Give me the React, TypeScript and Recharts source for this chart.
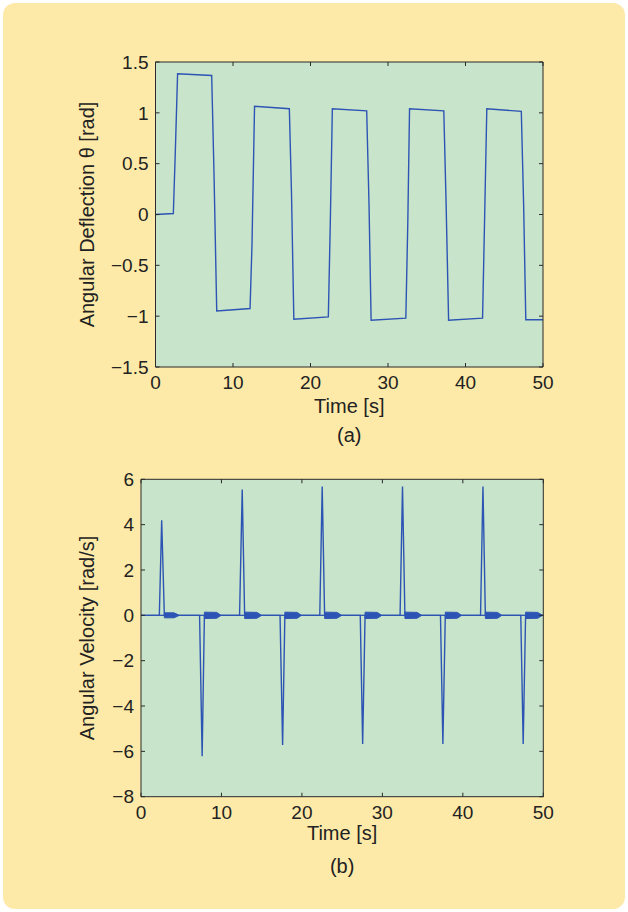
import React from 'react'
import { ComposedChart, Line, Area, XAxis, YAxis, CartesianGrid } from 'recharts'

const timeTicks = [0, 10, 20, 30, 40, 50]
const thetaTicks = [-1.5, -1, -0.5, 0, 0.5, 1, 1.5]
const omegaTicks = [-8, -6, -4, -2, 0, 2, 4, 6]

// (a) angular deflection
const thetaT = [0, 2.3, 2.55, 2.85, 7.25, 7.55, 7.9, 12.2, 12.45, 12.78, 17.27, 17.55, 17.85, 22.3, 22.55, 22.82, 27.25, 27.55, 27.82, 32.3, 32.55, 32.78, 37.2, 37.5, 37.82, 42.2, 42.45, 42.75, 47.2, 47.5, 47.78, 50]
const thetaV = [0, 0.01, 0.6, 1.385, 1.367, 0.4, -0.948, -0.925, -0.3, 1.064, 1.04, 0.2, -1.03, -1.007, -0.1, 1.04, 1.02, 0.1, -1.04, -1.02, -0.1, 1.04, 1.02, 0.1, -1.04, -1.02, -0.1, 1.04, 1.015, 0.1, -1.035, -1.035]

// (b) angular velocity spikes
const omegaT = [0, 2.28, 2.57, 2.9, 7.28, 7.6, 7.88, 12.25, 12.58, 12.88, 17.28, 17.6, 17.88, 22.22, 22.52, 22.82, 27.25, 27.55, 27.85, 32.2, 32.5, 32.8, 37.22, 37.52, 37.82, 42.2, 42.5, 42.8, 47.2, 47.5, 47.8, 50]
const omegaV = [0, 0, 4.19, 0, 0, -6.21, 0, 0, 5.55, 0, 0, -5.72, 0, 0, 5.68, 0, 0, -5.68, 0, 0, 5.68, 0, 0, -5.68, 0, 0, 5.68, 0, 0, -5.68, 0, 0]

// envelope of the fast ringing after each spike
const ringT = [0, 2.9, 2.9, 4.1, 4.78, 7.88, 7.88, 9.4, 9.95, 12.88, 12.88, 14.4, 15.0, 17.88, 17.88, 19.4, 19.95, 22.82, 22.82, 24.35, 24.95, 27.85, 27.85, 29.35, 29.93, 32.8, 32.8, 34.3, 34.9, 37.82, 37.82, 39.3, 39.85, 42.8, 42.8, 44.3, 44.85, 47.8, 47.8, 49.3, 49.9, 50]
const ringAmp = [0, 0, 0.11, 0.11, 0, 0, 0.14, 0.13, 0, 0, 0.14, 0.13, 0, 0, 0.14, 0.13, 0, 0, 0.14, 0.13, 0, 0, 0.14, 0.13, 0, 0, 0.14, 0.13, 0, 0, 0.14, 0.13, 0, 0, 0.14, 0.13, 0, 0, 0.14, 0.13, 0, 0]

const thetaData = thetaT.map((t, i) => ({ t, v: thetaV[i] }))
const omegaData = omegaT.map((t, i) => ({ t, v: omegaV[i] }))
const ringData = ringT.map((t, i) => ({ t, r: [-ringAmp[i], ringAmp[i]] }))

const FONT = '"Liberation Sans", Arial, Helvetica, sans-serif'
const INK = '#222'
const AXIS = '#2b2b2b'
const BLUE = '#2d54b4'
const PLOT_BG = '#c8e4ca'
const CARD_BG = '#feeaa8'

const fmt = (v: number) => String(v).replace('-', '\u2212')

function YTitle({ text, cx, cy }: { text: string; cx: number; cy: number }) {
  return (
    <text x={cx} y={cy} transform={`rotate(-90 ${cx} ${cy})`} textAnchor="middle"
      dominantBaseline="central" fill={INK} fontSize={20} fontFamily={FONT}>
      {text}
    </text>
  )
}

function XTitle({ cx, y1, y2, caption }: { cx: number; y1: number; y2: number; caption: string }) {
  return (
    <g>
      <text x={cx} y={y1} textAnchor="middle" fill={INK} fontSize={20} fontFamily={FONT}>Time [s]</text>
      <text x={cx} y={y2} textAnchor="middle" fill={INK} fontSize={20} fontFamily={FONT}>{caption}</text>
    </g>
  )
}

type PanelProps = {
  top: number
  height: number
  plot: { left: number; top: number; right: number; bottom: number }
  yDomain: [number, number]
  yTicks: number[]
  yLabel: string
  caption: string
  titleDy: number
  captionDy: number
  boxData: { t: number; v: number }[]
  children: React.ReactNode
}

function Panel({ top, height, plot, yDomain, yTicks, yLabel, caption, titleDy, captionDy, boxData, children }: PanelProps) {
  const W = 628
  const tickStyle = { fill: INK, fontSize: 19, fontFamily: FONT }
  const cx = (plot.left + plot.right) / 2
  return (
    <div style={{ position: 'absolute', left: 0, top, width: W, height }}>
      <ComposedChart width={W} height={height}
        margin={{ top: plot.top - 1, right: W - plot.right - 1, bottom: 0, left: 0 }}>
        <CartesianGrid horizontal={false} vertical={false} fill={PLOT_BG} fillOpacity={1} />
        <XAxis dataKey="t" type="number" domain={[0, 50]} ticks={timeTicks} interval={0}
          allowDataOverflow height={height - plot.bottom} tickSize={-4} tickMargin={13}
          tick={tickStyle} axisLine={{ stroke: AXIS }} tickLine={{ stroke: AXIS }}
          label={<XTitle cx={cx} y1={plot.bottom + titleDy} y2={plot.bottom + captionDy} caption={caption} />} />
        <XAxis xAxisId="top" orientation="top" dataKey="t" type="number" domain={[0, 50]}
          ticks={timeTicks} interval={0} allowDataOverflow height={1} tickSize={-4}
          tickFormatter={() => ''} axisLine={{ stroke: AXIS }} tickLine={{ stroke: AXIS }} />
        <YAxis type="number" domain={yDomain} ticks={yTicks} interval={0} allowDataOverflow
          width={plot.left} tickSize={-4} tickMargin={11} tickFormatter={fmt}
          tick={tickStyle} axisLine={{ stroke: AXIS }} tickLine={{ stroke: AXIS }}
          label={<YTitle text={yLabel} cx={87} cy={(plot.top + plot.bottom) / 2} />} />
        <YAxis yAxisId="right" orientation="right" type="number" domain={yDomain} ticks={yTicks}
          interval={0} allowDataOverflow width={1} tickSize={-4} tickFormatter={() => ''}
          axisLine={{ stroke: AXIS }} tickLine={{ stroke: AXIS }} />
        {/* invisible copy tying the box axes to the data */}
        <Line data={boxData} dataKey="v" xAxisId="top" yAxisId="right" stroke="none"
          dot={false} activeDot={false} isAnimationActive={false} />
        {children}
      </ComposedChart>
    </div>
  )
}

export default function App() {
  return (
    <div style={{ position: 'absolute', left: 0, top: 0, width: 628, height: 912, background: '#fff', overflow: 'hidden' }}>
      <div style={{ position: 'absolute', left: 3, top: 3, width: 622, height: 906, background: CARD_BG, borderRadius: 12 }} />
      <Panel top={0} height={460} plot={{ left: 155.5, top: 62, right: 543, bottom: 367 }}
        yDomain={[-1.5, 1.5]} yTicks={thetaTicks} yLabel={'Angular Deflection \u03b8 [rad]'}
        caption="(a)" titleDy={46} captionDy={75} boxData={thetaData}>
        <Line data={thetaData} dataKey="v" type="linear" stroke={BLUE} strokeWidth={1.4}
          dot={false} activeDot={false} isAnimationActive={false} />
      </Panel>
      <Panel top={450} height={462} plot={{ left: 141, top: 29.3, right: 543.3, bottom: 346.7 }}
        yDomain={[-8, 6]} yTicks={omegaTicks} yLabel="Angular Velocity [rad/s]"
        caption="(b)" titleDy={43} captionDy={76} boxData={omegaData}>
        <Area data={ringData} dataKey="r" type="linear" stroke={BLUE} strokeWidth={1}
          fill={BLUE} fillOpacity={1} dot={false} activeDot={false} isAnimationActive={false} />
        <Line data={omegaData} dataKey="v" type="linear" stroke={BLUE} strokeWidth={1.4}
          dot={false} activeDot={false} isAnimationActive={false} />
      </Panel>
    </div>
  )
}
